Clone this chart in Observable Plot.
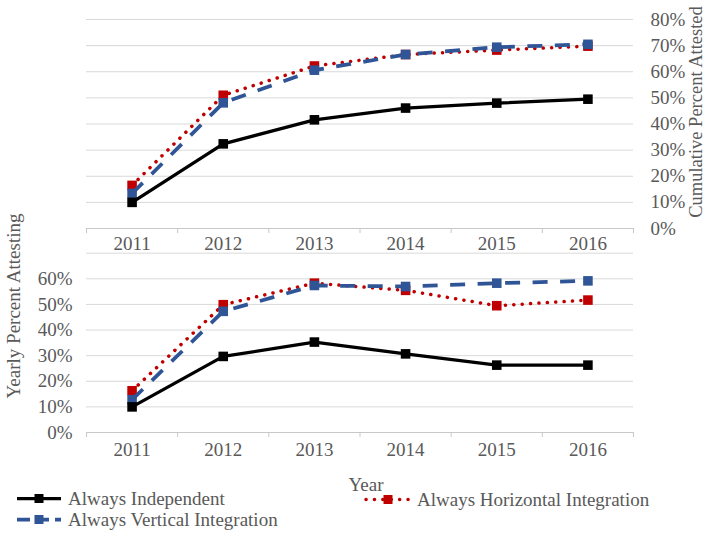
<!DOCTYPE html>
<html>
<head>
<meta charset="utf-8">
<script src="https://cdn.jsdelivr.net/npm/d3@7"></script>
<script src="https://cdn.jsdelivr.net/npm/@observablehq/plot@0.6"></script>
<style>
  body { margin: 0; background: #ffffff; }
  #wrap { position: relative; width: 709px; height: 534px; overflow: hidden;
          font-family: "Liberation Serif", "Times New Roman", serif; color: #595959; background: #fff; }
  #wrap > svg { position: absolute; left: 0; }
  .lbl { position: absolute; white-space: nowrap; line-height: 1; }
  .rot { transform: translate(-50%, -50%) rotate(-90deg); }
  .leg { position: absolute; display: flex; align-items: center; white-space: nowrap; font-size: 19px; line-height: 1; color: #595959; transform: translateY(-50%); }
  .leg svg { display: block; margin-right: 5px; }
</style>
</head>
<body>
<div id="wrap"></div>
<script>
// ---------- data ----------
const years = [2011, 2012, 2013, 2014, 2015, 2016];
const seriesNames = ["Always Independent", "Always Horizontal Integration", "Always Vertical Integration"];

// Cumulative percent attested (top panel)
const cumIndependent = [0.100, 0.324, 0.416, 0.461, 0.480, 0.495];
const cumHorizontal  = [0.165, 0.510, 0.622, 0.666, 0.683, 0.698];
const cumVertical    = [0.134, 0.481, 0.606, 0.666, 0.694, 0.705];

// Yearly percent attesting (bottom panel)
const yrIndependent = [0.100, 0.297, 0.353, 0.307, 0.263, 0.263];
const yrHorizontal  = [0.163, 0.499, 0.583, 0.555, 0.495, 0.517];
const yrVertical    = [0.128, 0.473, 0.574, 0.570, 0.583, 0.592];

const topTicks = [0, 0.1, 0.2, 0.3, 0.4, 0.5, 0.6, 0.7, 0.8];
const bottomTicks = [0, 0.1, 0.2, 0.3, 0.4, 0.5, 0.6];
const bottomGrid = [0.1, 0.2, 0.3, 0.4, 0.5, 0.6, 0.7];
const topTitle = "Cumulative Percent Attested";
const bottomTitle = "Yearly Percent Attesting";
const xTitle = "Year";

// ---------- styles ----------
const styles = {
  "Always Independent": { color: "#000000", width: 3.25, dash: null, cap: "butt" },
  "Always Horizontal Integration": { color: "#c00000", width: 3.5, dash: "0.1 8.3", cap: "round" },
  "Always Vertical Integration": { color: "#2f5597", width: 3.75, dash: "15 12.5", cap: "butt" }
};
const drawOrder = ["Always Horizontal Integration", "Always Vertical Integration", "Always Independent"];
const font = '"Liberation Serif", "Times New Roman", serif';
const gridColor = "#d9d9d9";
const axisColor = "#c8c8c8";
const textColor = "#595959";
const tickFont = 19;
const boundaries = d3.range(years.length + 1).map(i => years[0] - 0.5 + i);

function rows(arrs) {
  const out = [];
  seriesNames.forEach((s, i) => years.forEach((y, j) => out.push({ series: s, year: y, value: arrs[i][j] })));
  return out;
}
const topData = rows([cumIndependent, cumHorizontal, cumVertical]);
const bottomData = rows([yrIndependent, yrHorizontal, yrVertical]);

function seriesMarks(data) {
  const marks = [];
  for (const s of drawOrder) {
    const st = styles[s];
    const d = data.filter(r => r.series === s);
    marks.push(Plot.lineY(d, {
      x: "year", y: "value", stroke: st.color, strokeWidth: st.width,
      strokeDasharray: st.dash, strokeLinecap: st.cap, strokeLinejoin: "round"
    }));
    marks.push(Plot.dot(d, { x: "year", y: "value", symbol: "square", r: 5.4, fill: st.color, stroke: "none" }));
  }
  return marks;
}

const wrap = document.getElementById("wrap");
const textOpts = { fill: textColor, fontFamily: font, fontSize: tickFont };

// ---------- top panel ----------
const topPlot = Plot.plot({
  width: 709, height: 262,
  marginLeft: 86, marginRight: 76, marginTop: 19, marginBottom: 34,
  style: { background: "transparent", fontFamily: font, fontSize: tickFont + "px", color: textColor, overflow: "visible" },
  x: { domain: [2010.5, 2016.5] },
  y: { domain: [0, 0.8] },
  marks: [
    Plot.ruleY(topTicks.filter(t => t > 0), { stroke: gridColor, strokeWidth: 1 }),
    Plot.ruleY([0], { stroke: axisColor, strokeWidth: 1 }),
    Plot.axisX(boundaries, { tickSize: 5, tickFormat: () => "", stroke: axisColor, label: null }),
    Plot.axisX(years, { tickSize: 0, tickPadding: 8, tickFormat: d => String(d), ...textOpts, label: null }),
    Plot.axisY(topTicks, { anchor: "right", tickSize: 0, tickPadding: 17, tickFormat: d3.format(".0%"), ...textOpts, label: null }),
    ...seriesMarks(topData)
  ]
});
topPlot.style.top = "0px";
wrap.appendChild(topPlot);

// ---------- bottom panel ----------
const bottomPlot = Plot.plot({
  width: 709, height: 272,
  marginLeft: 86, marginRight: 76, marginTop: 52.7, marginBottom: 40,
  style: { background: "transparent", fontFamily: font, fontSize: tickFont + "px", color: textColor, overflow: "visible" },
  x: { domain: [2010.5, 2016.5] },
  y: { domain: [0, 0.7] },
  marks: [
    Plot.ruleY(bottomGrid, { stroke: gridColor, strokeWidth: 1 }),
    Plot.ruleY([0], { stroke: axisColor, strokeWidth: 1 }),
    Plot.axisX(boundaries, { tickSize: 5, tickFormat: () => "", stroke: axisColor, label: null }),
    Plot.axisX(years, { tickSize: 0, tickPadding: 10, tickFormat: d => String(d), ...textOpts, label: null }),
    Plot.axisY(bottomTicks, { anchor: "left", tickSize: 0, tickPadding: 14, tickFormat: d3.format(".0%"), ...textOpts, label: null }),
    ...seriesMarks(bottomData)
  ]
});
bottomPlot.style.top = "200px";
wrap.appendChild(bottomPlot);

// ---------- titles ----------
function addLabel(text, x, y, rotate, size) {
  const d = document.createElement("div");
  d.className = "lbl" + (rotate ? " rot" : "");
  d.textContent = text;
  d.style.left = x + "px";
  d.style.top = y + "px";
  d.style.fontSize = size + "px";
  if (!rotate) d.style.transform = "translate(-50%, -50%)";
  wrap.appendChild(d);
}
addLabel(topTitle, 696, 112, true, 18.5);
addLabel(bottomTitle, 13, 306, true, 19);
addLabel(xTitle, 366, 484, false, 19);

// ---------- legend ----------
const legendPos = {
  "Always Independent": [15, 498],
  "Always Horizontal Integration": [364, 499],
  "Always Vertical Integration": [15, 519]
};
for (const s of seriesNames) {
  const st = styles[s];
  const [lx, ly] = legendPos[s];
  const item = document.createElement("div");
  item.className = "leg";
  item.style.left = lx + "px";
  item.style.top = ly + "px";
  const w = 48, h = 14;
  const svg = d3.create("svg").attr("width", w).attr("height", h);
  svg.append("line").attr("x1", 2).attr("x2", w - 2).attr("y1", h / 2).attr("y2", h / 2)
    .attr("stroke", st.color).attr("stroke-width", st.width)
    .attr("stroke-dasharray", s === "Always Vertical Integration" ? "13 6" : st.dash)
    .attr("stroke-linecap", st.cap);
  svg.append("rect").attr("x", w / 2 - 4.5).attr("y", h / 2 - 4.5).attr("width", 9).attr("height", 9).attr("fill", st.color);
  item.appendChild(svg.node());
  const span = document.createElement("span");
  span.textContent = s;
  item.appendChild(span);
  wrap.appendChild(item);
}
</script>
</body>
</html>
